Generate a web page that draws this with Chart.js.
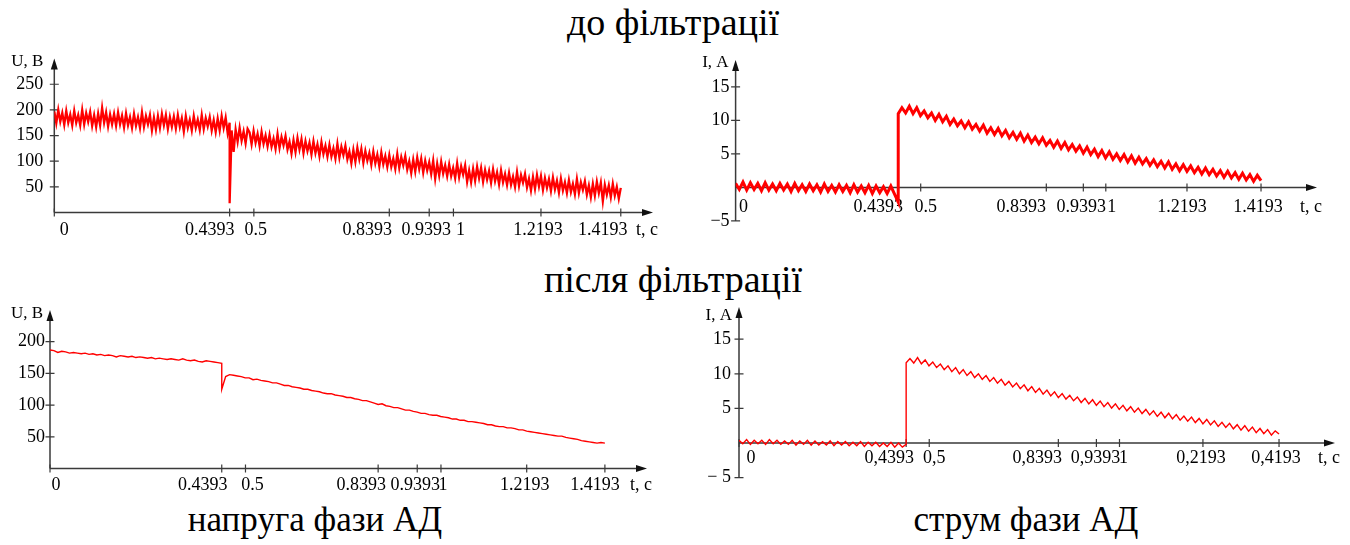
<!DOCTYPE html>
<html>
<head>
<meta charset="utf-8">
<script src="https://cdn.jsdelivr.net/npm/chart.js@4.4.1/dist/chart.umd.min.js"></script>
<style>
  body { margin: 0; background: #fff; width: 1350px; height: 545px; position: relative; overflow: hidden;
         font-family: "Liberation Serif", "Times New Roman", serif; }
  .t { position: absolute; font-size: 35px; line-height: 36px; white-space: nowrap; transform: translateX(-50%); color: #000; }
  .big { font-size: 38px; }
  canvas { position: absolute; }
</style>
</head>
<body>
<div class="t big" style="left:673px;top:4px">до фільтрації</div>
<div class="t big" style="left:673px;top:261px">після фільтрації</div>
<div class="t" style="left:315px;top:502px">напруга фази АД</div>
<div class="t" style="left:1026px;top:502px">струм фази АД</div>

<canvas id="uRaw" width="680" height="215" style="left:0;top:40px"></canvas>
<canvas id="iRaw" width="670" height="215" style="left:680px;top:40px"></canvas>
<canvas id="uFilt" width="680" height="215" style="left:0;top:295px"></canvas>
<canvas id="iFilt" width="670" height="215" style="left:680px;top:295px"></canvas>

<script>
// switching moment and end of record, s
const tSwitch = 0.4393;
const tEnd = 1.4193;

const xTicks = [0, 0.4393, 0.5, 0.8393, 0.9393, 1, 1.2193, 1.4193];
const xLabelsDot = ['0', '0.4393', '0.5', '0.8393', '0.9393', '1', '1.2193', '1.4193'];
const xLabelsComma = ['0', '0,4393', '0,5', '0,8393', '0,9393', '1', '0,2193', '0,4193'];
const uTicksRaw = [50, 100, 150, 200, 250];
const uTicksFilt = [50, 100, 150, 200];
const iTicks = [-5, 5, 10, 15];

// voltage before filtering (U, B): samples before / after switching
const uRawBefore = [
  197, 174, 200, 177, 194, 171, 198, 175, 191, 170,
  198, 175, 190, 170, 200, 172, 194, 177, 196, 169,
  190, 167, 193, 170, 204, 175, 195, 168, 191, 172,
  192, 169, 195, 172, 189, 166, 193, 170, 186, 165,
  192, 169, 186, 165, 195, 167, 188, 172, 190, 160,
  185, 162, 188, 165, 192, 170, 190, 163, 186, 167,
  187, 164, 190, 167, 184, 158, 188, 165, 181, 160,
  188, 165, 181, 161, 190, 163, 184, 168, 186, 160,
  180, 157, 183, 160, 188, 165, 185, 155, 175
];
const uRawAfter = [
  18, 160, 118, 162, 138, 165, 140, 158, 135, 163,
  156, 133, 159, 136, 153, 130, 157, 134, 150, 129,
  151, 128, 144, 124, 153, 126, 147, 131, 149, 123,
  138, 115, 141, 118, 145, 123, 143, 116, 139, 120,
  136, 113, 139, 116, 133, 110, 137, 114, 130, 109,
  132, 109, 125, 105, 134, 107, 128, 112, 130, 104,
  119, 96, 122, 99, 126, 104, 124, 97, 120, 101,
  116, 93, 119, 96, 113, 90, 117, 94, 110, 89,
  112, 89, 105, 85, 114, 87, 108, 92, 110, 84,
  100, 77, 103, 80, 107, 85, 105, 78, 101, 82,
  98, 75, 101, 66, 95, 72, 99, 76, 92, 71,
  94, 71, 87, 67, 96, 69, 90, 74, 92, 60,
  82, 59, 85, 62, 89, 67, 87, 60, 83, 64,
  81, 58, 84, 61, 78, 55, 82, 59, 75, 54,
  77, 54, 70, 50, 79, 52, 73, 58, 75, 49,
  66, 43, 69, 46, 73, 51, 71, 44, 67, 48,
  65, 42, 68, 45, 62, 39, 66, 43, 59, 38,
  63, 40, 56, 36, 65, 38, 59, 44, 61, 35,
  53, 30, 56, 33, 60, 38, 58, 22, 54, 35,
  53, 30, 56, 33, 50, 27, 48
];

// current before filtering (I, A)
const iRawBefore = [
  0.6, -0.3, 0.8, -0.4, 0.7, -0.3, 0.6, -0.5, 0.7, -0.4,
  0.5, -0.5, 0.6, -0.4, 0.5, -0.6, 0.6, -0.5, 0.4, -0.6,
  0.5, -0.5, 0.4, -0.7, 0.5, -0.6, 0.3, -0.7, 0.4, -0.6,
  0.3, -0.8, 0.4, -0.7, 0.2, -0.8, 0.3, -0.9, 0.2, -0.8,
  0.1, -0.9, 0.2, -1.0, -2.2
];
const iRawAfter = [
  11.0, 11.9, 11.1, 12.1, 11.0, 11.9, 10.7, 11.4, 10.4, 11.1,
  10.0, 10.9, 9.8, 10.6, 9.4, 10.2, 9.2, 9.9, 8.9, 9.8,
  8.7, 9.4, 8.4, 9.3, 8.1, 8.9, 7.9, 8.8, 7.7, 8.5,
  7.4, 8.2, 7.2, 8.1, 6.9, 7.8, 6.7, 7.5, 6.5, 7.4,
  6.3, 7.0, 6.0, 6.9, 5.8, 6.7, 5.6, 6.4, 5.4, 6.2,
  5.1, 6.0, 4.9, 5.7, 4.6, 5.5, 4.4, 5.3, 4.2, 5.0,
  4.0, 4.9, 3.8, 4.7, 3.6, 4.5, 3.5, 4.3, 3.3, 4.1,
  3.1, 3.9, 2.9, 3.8, 2.7, 3.5, 2.5, 3.4, 2.4, 3.2,
  2.2, 3.0, 2.0, 2.9, 1.9, 2.7, 1.7, 2.5, 1.5, 2.4,
  1.4, 2.2, 1.2, 2.1, 1.1, 1.9, 0.9, 1.8, 1.0
];

// voltage after filtering (U, B)
const uFiltBefore = [
  187, 186, 183, 185, 184, 182, 183, 182, 181, 182,
  180, 181, 179, 180, 178, 179, 178, 176, 178, 177,
  176, 177, 175, 176, 175, 174, 175, 173, 174, 173,
  172, 173, 172, 171, 173, 171, 170, 171, 169, 168,
  170, 169, 168, 167, 166
];
const uFiltAfter = [
  125, 145, 148, 147, 146, 145, 143, 143, 140, 141,
  139, 138, 137, 135, 135, 133, 131, 131, 129, 128,
  127, 125, 125, 123, 122, 121, 119, 118, 118, 116,
  115, 114, 112, 112, 110, 109, 107, 107, 105, 103,
  101, 102, 99, 98, 96, 96, 94, 92, 92, 90,
  89, 87, 87, 85, 84, 84, 82, 81, 80, 78,
  78, 76, 76, 74, 74, 73, 72, 71, 69, 69,
  67, 66, 66, 64, 64, 63, 61, 61, 59, 58,
  57, 56, 55, 54, 53, 52, 51, 51, 49, 48,
  47, 46, 44, 43, 42, 41, 40, 41, 40
];

// current after filtering (I, A)
const iFiltBefore = [
  0.4, -0.1, 0.5, -0.2, 0.4, -0.1, 0.4, -0.2, 0.5, -0.1,
  0.4, -0.2, 0.3, -0.2, 0.4, -0.3, 0.3, -0.2, 0.4, -0.3,
  0.3, -0.3, 0.2, -0.3, 0.3, -0.4, 0.2, -0.3, 0.2, -0.4,
  0.1, -0.4, 0.2, -0.5, 0.1, -0.4, 0.1, -0.5, 0.0, -0.5,
  0.1, -0.6, 0.0, -0.6, -0.2
];
const iFiltAfter = [
  11.6, 12.2, 11.55, 12.35, 11.45, 12.0, 11.15, 11.7, 10.9, 11.4,
  10.6, 11.15, 10.3, 10.9, 10.0, 10.6, 9.75, 10.3, 9.45, 10.0,
  9.2, 9.75, 8.9, 9.45, 8.65, 9.2, 8.35, 8.9, 8.1, 8.65,
  7.85, 8.4, 7.55, 8.15, 7.3, 7.9, 7.05, 7.65, 6.8, 7.4,
  6.55, 7.15, 6.35, 6.9, 6.1, 6.65, 5.85, 6.45, 5.65, 6.25,
  5.45, 6.05, 5.25, 5.85, 5.05, 5.65, 4.85, 5.45, 4.65, 5.25,
  4.45, 5.05, 4.25, 4.85, 4.05, 4.65, 3.85, 4.45, 3.65, 4.3,
  3.5, 4.1, 3.3, 3.9, 3.15, 3.75, 2.95, 3.55, 2.75, 3.4,
  2.6, 3.2, 2.4, 3.0, 2.25, 2.85, 2.05, 2.65, 1.85, 2.5,
  1.7, 2.3, 1.5, 2.1, 1.35, 1.95, 1.15, 1.75, 1.3
];

// samples are evenly spread over [0, tSwitch] and [tSwitch, tEnd]
function toPoints(before, after) {
  const pts = [];
  before.forEach((v, i) => pts.push({ x: tSwitch * i / (before.length - 1), y: v }));
  after.forEach((v, i) => pts.push({ x: tSwitch + (tEnd - tSwitch) * i / (after.length - 1), y: v }));
  return pts;
}

const FONT = '"Liberation Serif", "Times New Roman", serif';

// draws the arrowed axes, ticks and labels through the chart's own scales
const axesPlugin = {
  id: 'axes',
  beforeDatasetsDraw(chart, args, o) {
    const ctx = chart.ctx;
    const xs = chart.scales.x, ys = chart.scales.y, a = chart.chartArea;
    const x0 = xs.getPixelForValue(0);
    const y0 = ys.getPixelForValue(0);
    const yBottom = ys.getPixelForValue(ys.min);
    ctx.save();
    ctx.strokeStyle = '#3a3a3a';
    ctx.fillStyle = '#111';
    ctx.lineWidth = 1.5;

    ctx.beginPath();
    ctx.moveTo(x0, y0);
    ctx.lineTo(a.right - 9, y0);
    ctx.moveTo(x0, yBottom);
    ctx.lineTo(x0, a.top + 9);
    ctx.stroke();

    // arrow heads
    ctx.beginPath();
    ctx.moveTo(a.right, y0);
    ctx.lineTo(a.right - 11, y0 - 3.5);
    ctx.lineTo(a.right - 11, y0 + 3.5);
    ctx.closePath();
    ctx.fill();
    ctx.beginPath();
    ctx.moveTo(x0, a.top);
    ctx.lineTo(x0 - 3.5, a.top + 11);
    ctx.lineTo(x0 + 3.5, a.top + 11);
    ctx.closePath();
    ctx.fill();

    ctx.lineWidth = 1.2;
    ctx.beginPath();
    xTicks.forEach(v => {
      const px = xs.getPixelForValue(v);
      ctx.moveTo(px, y0 - 4);
      ctx.lineTo(px, y0 + 4);
    });
    o.yTicks.forEach(v => {
      const py = ys.getPixelForValue(v);
      ctx.moveTo(x0 - 4.5, py);
      ctx.lineTo(x0 + 4.5, py);
    });
    ctx.stroke();

    ctx.fillStyle = '#000';
    ctx.font = '18px ' + FONT;
    ctx.textBaseline = 'alphabetic';
    ctx.textAlign = 'center';
    xTicks.forEach((v, i) => {
      ctx.fillText(o.xLabels[i], xs.getPixelForValue(v) + o.xShift[i], y0 + o.xLabelDy);
    });
    ctx.textAlign = 'right';
    ctx.fillText('t, c', a.right + 5, y0 + o.xLabelDy);

    ctx.textBaseline = 'middle';
    o.yTicks.forEach((v, i) => {
      ctx.fillText(o.yLabels[i], x0 - o.yGap, ys.getPixelForValue(v));
    });

    ctx.font = '17px ' + FONT;
    ctx.textBaseline = 'alphabetic';
    ctx.fillText(o.title, x0 - o.titleGap, a.top + o.titleDy);
    ctx.restore();
  }
};

function makePanel(id, w, h, area, xMax, yMin, yMax, points, lineWidth, axes) {
  return new Chart(document.getElementById(id), {
    type: 'line',
    data: {
      datasets: [{
        data: points,
        borderColor: '#ff0000',
        borderWidth: lineWidth,
        pointRadius: 0,
        tension: 0,
        fill: false
      }]
    },
    options: {
      responsive: false,
      animation: false,
      devicePixelRatio: 1,
      parsing: false,
      events: [],
      layout: {
        padding: { left: area.left, right: w - area.right, top: area.top, bottom: h - area.bottom }
      },
      plugins: { legend: { display: false }, tooltip: { enabled: false }, axes: axes },
      scales: {
        x: { type: 'linear', min: 0, max: xMax, display: false },
        y: { type: 'linear', min: yMin, max: yMax, display: false }
      }
    },
    plugins: [axesPlugin]
  });
}

makePanel('uRaw', 680, 215, { left: 54.3, right: 653, top: 18.6, bottom: 172.5 }, 1.5, 0, 300,
  toPoints(uRawBefore, uRawAfter), 2.3, {
    yTicks: uTicksRaw, yLabels: uTicksRaw.map(String), yGap: 11,
    xLabels: xLabelsDot, xShift: [10, -20, 2, -22, -3, 7, -3, -18], xLabelDy: 22.5,
    title: 'U, B', titleGap: 11, titleDy: 7.5
  });

makePanel('iRaw', 670, 215, { left: 55.6, right: 637, top: 20.1, bottom: 180.9 }, 1.5705, -5, 19,
  toPoints(iRawBefore, iRawAfter), 3, {
    yTicks: iTicks, yLabels: ['\u22125', '5', '10', '15'], yGap: 6,
    xLabels: xLabelsDot, xShift: [8, -20, 5, -25, -2, 6, -5, -3], xLabelDy: 24.5,
    title: 'I, A', titleGap: 7, titleDy: 6.6
  });

makePanel('uFilt', 680, 215, { left: 50, right: 647, top: 15, bottom: 173.5 }, 1.527, 0, 250,
  toPoints(uFiltBefore, uFiltAfter), 1.4, {
    yTicks: uTicksFilt, yLabels: uTicksFilt.map(String), yGap: 5,
    xLabels: xLabelsDot, xShift: [6, -19, 7, -17, -2, 2, -2, -10], xLabelDy: 21.5,
    title: 'U, B', titleGap: 7, titleDy: 8
  });

makePanel('iFilt', 670, 215, { left: 59, right: 655, top: 12, bottom: 182.6 }, 1.5664, -5, 19.65,
  toPoints(iFiltBefore, iFiltAfter), 1.4, {
    yTicks: iTicks, yLabels: ['\u2212 5', '5', '10', '15'], yGap: 8,
    xLabels: xLabelsComma, xShift: [12, -17, 5, -21, -1, 4, -2, -3], xLabelDy: 20.5,
    title: 'I, A', titleGap: 7, titleDy: 13
  });
</script>
</body>
</html>
